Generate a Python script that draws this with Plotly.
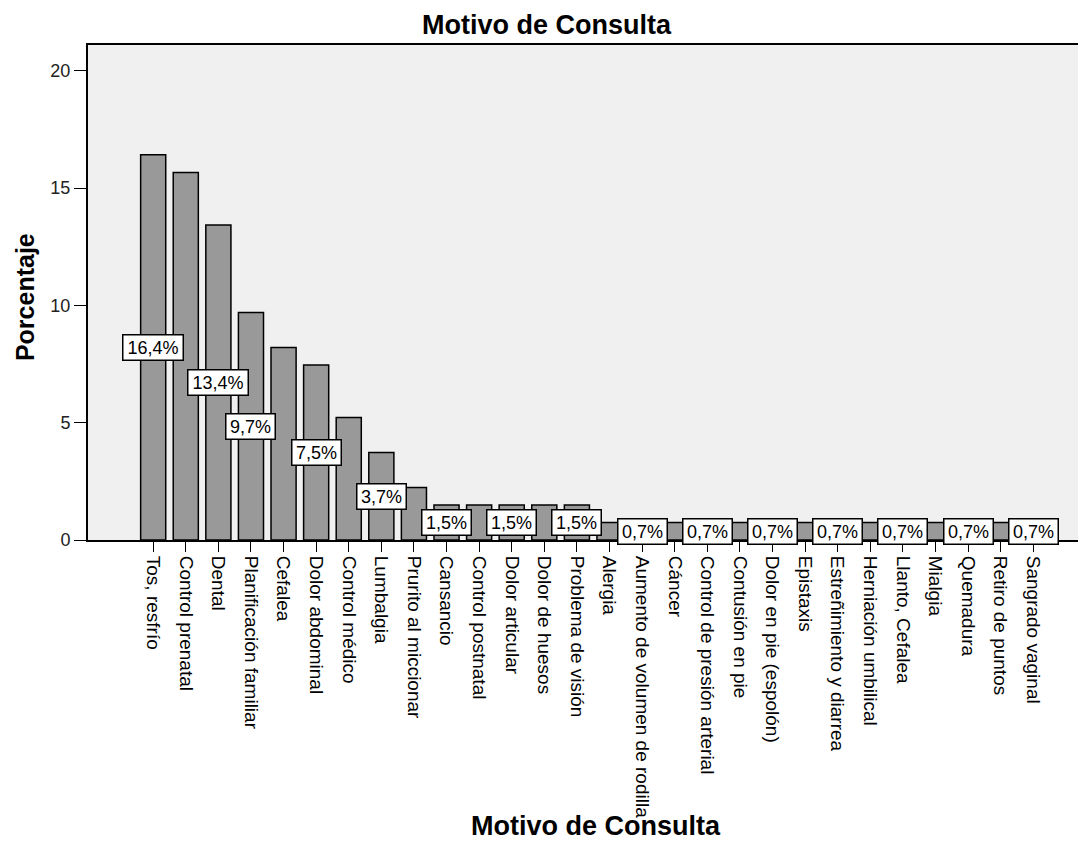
import plotly.graph_objects as go

categories = [
    "Tos, resfrío", "Control prenatal", "Dental", "Planificación familiar", "Cefalea",
    "Dolor abdominal", "Control médico", "Lumbalgia", "Prurito al miccionar", "Cansancio",
    "Control postnatal", "Dolor articular", "Dolor de huesos", "Problema de visión", "Alergia",
    "Aumento de volumen de rodilla", "Cáncer", "Control de presión arterial", "Contusión en pie",
    "Dolor en pie (espolón)", "Epistaxis", "Estreñimiento y diarrea", "Herniación umbilical",
    "Llanto, Cefalea", "Mialgia", "Quemadura", "Retiro de puntos", "Sangrado vaginal",
]
values = [16.42, 15.67, 13.43, 9.70, 8.21, 7.46, 5.22, 3.73, 2.24, 1.49,
          1.49, 1.49, 1.49, 1.49, 0.75, 0.75, 0.75, 0.75, 0.75, 0.75,
          0.75, 0.75, 0.75, 0.75, 0.75, 0.75, 0.75, 0.75]
bar_labels = ["16,4%", None, "13,4%", "9,7%", None, "7,5%", None, "3,7%", None, "1,5%",
              None, "1,5%", None, "1,5%", None, "0,7%", None, "0,7%", None, "0,7%",
              None, "0,7%", None, "0,7%", None, "0,7%", None, "0,7%"]
y_ticks = [0, 5, 10, 15, 20]
title_text = "Motivo de Consulta"
x_title = "Motivo de Consulta"
y_title = "Porcentaje"

FONT = "Liberation Sans, Arial, sans-serif"

fig = go.Figure()
fig.add_trace(go.Bar(
    x=categories, y=values, width=0.77,
    marker=dict(color="#999999", line=dict(color="#000000", width=1.5)),
    hoverinfo="x+y",
))

for c, v, lab in zip(categories, values, bar_labels):
    if lab:
        fig.add_annotation(
            x=c, y=v / 2, xref="x", yref="y", text=lab, showarrow=False,
            font=dict(family=FONT, size=18, color="#000000"),
            width=11 * len(lab), align="center",
            bgcolor="#ffffff", bordercolor="#000000", borderwidth=1.5, borderpad=2,
        )

# titles as paper annotations
fig.add_annotation(text="<b>%s</b>" % title_text, xref="paper", yref="paper",
                   x=0.46, y=1.040, xanchor="center", yanchor="middle", showarrow=False,
                   font=dict(family=FONT, size=27, color="#000000"))
fig.add_annotation(text="<b>%s</b>" % x_title, xref="paper", yref="paper",
                   x=0.509, y=-0.578, xanchor="center", yanchor="middle", showarrow=False,
                   font=dict(family=FONT, size=27, color="#000000"))
fig.add_annotation(text="<b>%s</b>" % y_title, xref="paper", yref="paper",
                   x=-0.063, y=0.491, xanchor="center", yanchor="middle", showarrow=False,
                   textangle=-90,
                   font=dict(family=FONT, size=25, color="#000000"))

fig.update_layout(
    width=1078, height=853,
    margin=dict(l=80, r=0, t=37, b=321),
    paper_bgcolor="#ffffff", plot_bgcolor="#f0f0f0",
    showlegend=False,
    font=dict(family=FONT, color="#000000"),
)
fig.update_xaxes(
    type="category", range=[-2, 28.62], tickangle=90,
    showline=True, linecolor="#000000", linewidth=2, mirror=True,
    ticks="outside", ticklen=10, tickcolor="#000000", tickwidth=1,
    tickfont=dict(family=FONT, size=19, color="#000000"),
    showgrid=False,
)
fig.update_yaxes(
    range=[0, 21.1], tickvals=y_ticks, ticktext=[str(t) for t in y_ticks],
    showline=True, linecolor="#000000", linewidth=2, mirror=False,
    ticks="outside", ticklen=12, tickcolor="#000000", tickwidth=1,
    tickfont=dict(family=FONT, size=18, color="#222222"),
    showgrid=False, zeroline=False,
)

fig.write_html("out.html")
